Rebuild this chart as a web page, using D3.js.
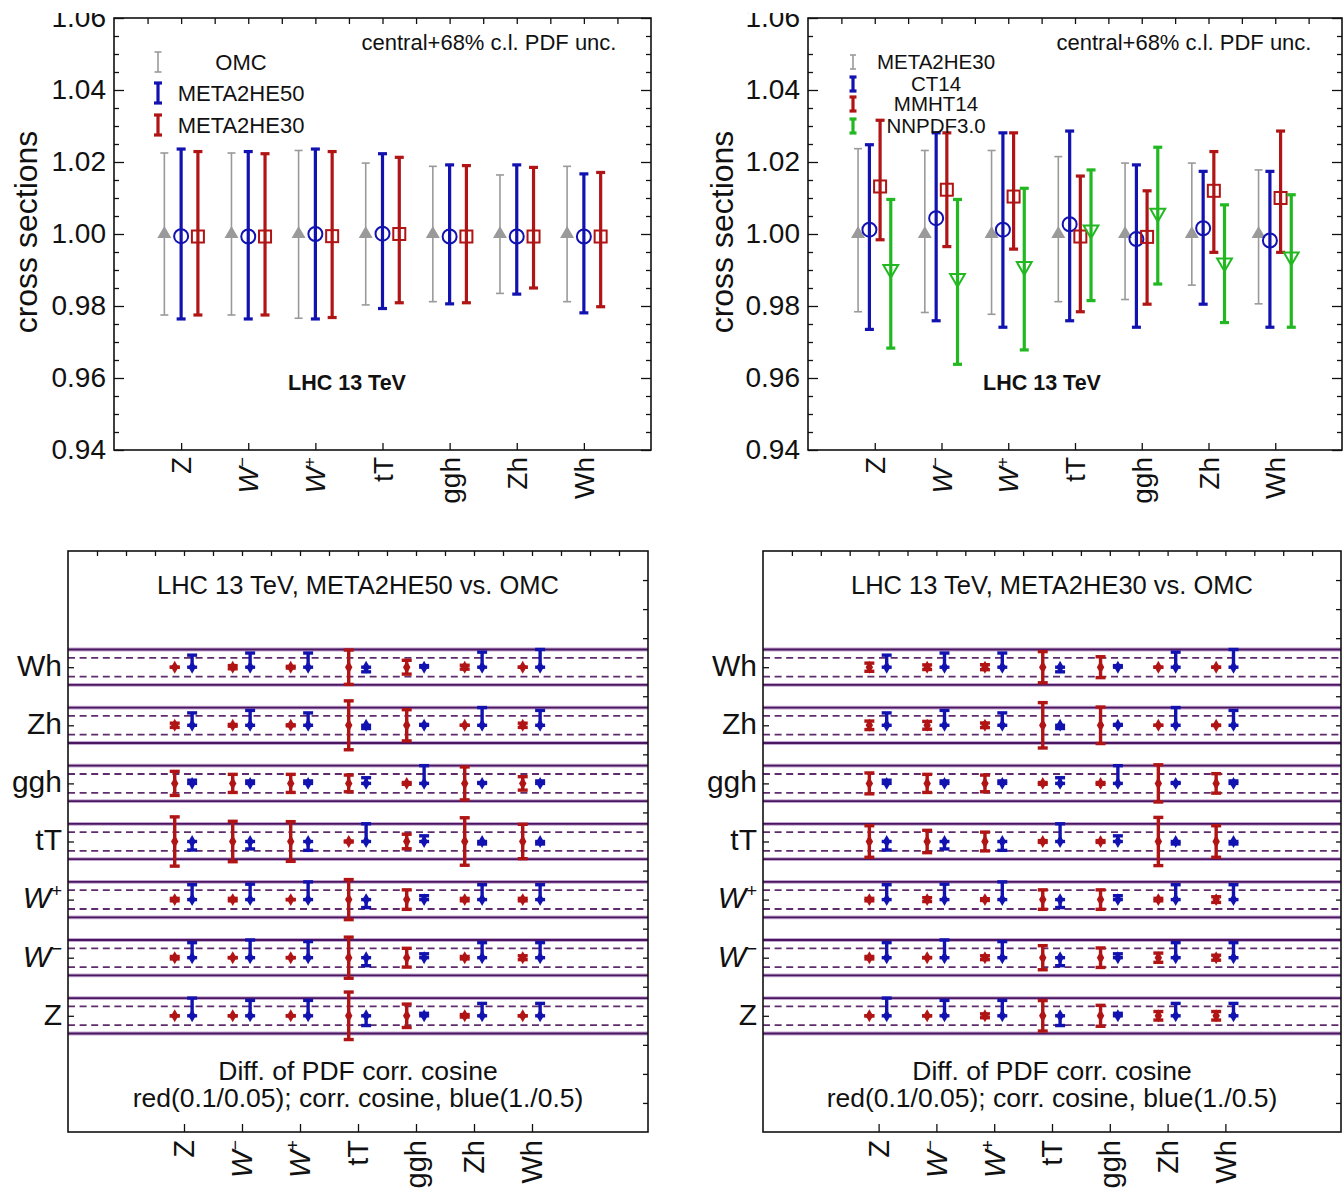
<!DOCTYPE html>
<html><head><meta charset="utf-8">
<script src="https://cdn.jsdelivr.net/npm/d3@7"></script>
<style>
body{margin:0;background:#fff}
svg{display:block}
text{font-family:"Liberation Sans",Arial,Helvetica,sans-serif;fill:#111}
</style>
</head><body>
<svg id="c" width="1343" height="1190"></svg>
<script>
// ---------------- DATA ----------------
const processes = ["Z","W-","W+","tT","ggh","Zh","Wh"];
const yTickValues = [0.94,0.96,0.98,1.00,1.02,1.04,1.06];

// Top-left: central + 68% c.l. PDF uncertainty (normalised to OMC)
const omcCentral = [1,1,1,1,1,1,1];
const omcLow     = [0.9775,0.9775,0.9766,0.9803,0.9812,0.9835,0.9812];
const omcHigh    = [1.0225,1.0225,1.0232,1.0197,1.0188,1.0164,1.0188];
const he50Central = [0.9994,0.9993,1.0000,1.0001,0.9993,0.9993,0.9993];
const he50Low     = [0.9764,0.9764,0.9764,0.9793,0.9806,0.9833,0.9781];
const he50High    = [1.0236,1.0229,1.0236,1.0223,1.0192,1.0192,1.0167];
const he30Central = [0.9993,0.9993,0.9994,1.0000,0.9993,0.9993,0.9993];
const he30Low     = [0.9775,0.9775,0.9768,0.9809,0.9809,0.9850,0.9798];
const he30High    = [1.0229,1.0223,1.0229,1.0213,1.0190,1.0185,1.0171];

// Top-right: normalised to META2HE30
const refCentral = [1,1,1,1,1,1,1];
const refLow     = [0.9784,0.9782,0.9777,0.9812,0.9818,0.9858,0.9806];
const refHigh    = [1.0237,1.0232,1.0232,1.0215,1.0197,1.0197,1.0178];
const ct14Central = [1.0012,1.0044,1.0012,1.0027,0.9986,1.0016,0.9982];
const ct14Low     = [0.9735,0.9759,0.9741,0.9759,0.9741,0.9805,0.9741];
const ct14High    = [1.0248,1.0281,1.0281,1.0286,1.0192,1.0174,1.0174];
const mmhtCentral = [1.0132,1.0123,1.0104,0.9993,0.9992,1.0120,1.0100];
const mmhtLow     = [0.9984,0.9965,0.9958,0.9784,0.9805,0.9949,0.9949];
const mmhtHigh    = [1.0316,1.0281,1.0281,1.0161,1.0120,1.0229,1.0286];
const nnpdfCentral = [0.9902,0.9877,0.9910,1.0012,1.0058,0.9920,0.9937];
const nnpdfLow     = [0.9683,0.9638,0.9678,0.9815,0.9861,0.9754,0.9741];
const nnpdfHigh    = [1.0096,1.0096,1.0127,1.0178,1.0241,1.0081,1.0109];

// Bottom: PDF correlation cosine (blue, rows = processes in order above)
const corrCosine = [
  [ 1.00, 0.87, 0.87,-0.55, 0.14, 0.70, 0.70],
  [ 0.85, 1.00, 0.91,-0.45, 0.22, 0.85, 0.85],
  [ 0.84, 0.87, 1.00,-0.45, 0.22, 0.84, 0.84],
  [-0.48,-0.42,-0.50, 1.00, 0.32,-0.14,-0.14],
  [ 0.18, 0.14, 0.14, 0.32, 1.00, 0.05, 0.14],
  [ 0.70, 0.84, 0.70,-0.18, 0.05, 1.00, 0.84],
  [ 0.68, 0.80, 0.80,-0.26, 0.09, 0.85, 1.00]
];
// Difference of correlation cosine (red), META2HE50 vs OMC
const diffHE50 = [
  [0.000,0.000,0.001,0.134,0.066,0.007,0.000],
  [0.007,0.001,0.001,0.116,0.053,0.007,0.011],
  [0.007,0.007,0.001,0.113,0.055,0.007,0.007],
  [0.139,0.114,0.112,0.003,0.041,0.134,0.097],
  [0.068,0.051,0.051,0.047,0.005,0.093,0.038],
  [0.012,0.005,0.003,0.138,0.088,0.000,0.012],
  [0.000,0.009,0.005,0.097,0.039,0.011,0.000]
];
// Difference of correlation cosine (red), META2HE30 vs OMC
const diffHE30 = [
  [0.000,0.000,0.011,0.086,0.059,0.024,0.024],
  [0.007,0.001,0.011,0.068,0.055,0.026,0.014],
  [0.007,0.011,0.005,0.055,0.055,0.007,0.016],
  [0.089,0.063,0.053,0.005,0.005,0.136,0.089],
  [0.059,0.051,0.047,0.005,0.005,0.105,0.055],
  [0.024,0.022,0.013,0.128,0.103,0.000,0.001],
  [0.023,0.013,0.014,0.088,0.059,0.000,0.000]
];

// ---------------- DRAWING ----------------
const svg = d3.select("#c");
svg.append("rect").attr("width",1343).attr("height",1190).attr("fill","#fff");
const COL = {gray:"#9a9a9a", blue:"#1212b0", red:"#b01414", green:"#22b822",
             purple:"#4a165f", purpleLight:"#c3a6d1", purpleDash:"#5e2c6c"};

svg.append("defs").append("clipPath").attr("id","topclip")
  .append("rect").attr("x",-300).attr("y",13).attr("width",2000).attr("height",1200);

function addLabel(t, lab, size){
  if(lab==="W-"||lab==="W+"){
    t.append("tspan").attr("font-style","italic").text("W");
    t.append("tspan").attr("font-size",size*0.62).attr("dy",-size*0.38)
      .text(lab==="W-"?"\u2212":"+");
  } else t.text(lab);
}
function styleAxis(g){ g.select(".domain").remove(); g.selectAll("line").attr("stroke","#111").attr("stroke-width",1.3); }

function topPanel(cfg){
  const {x0,x1,y0,y1,series,legendItems,legSymX,legTextX,legY,legHalf,yTitleX,legFont} = cfg;
  const x = d3.scaleLinear().domain([0,8]).range([x0,x1]);
  const y = d3.scaleLinear().domain([0.94,1.06]).range([y1,y0]);
  const g = svg.append("g");
  const minors = d3.range(0.94,1.0601,0.005).map(v=>+v.toFixed(3)).filter(v=>!yTickValues.some(t=>Math.abs(t-v)<1e-6));

  const la = g.append("g").attr("transform",`translate(${x0},0)`).attr("clip-path","url(#topclip)")
    .call(d3.axisLeft(y).tickValues(yTickValues).tickSize(-10).tickPadding(8).tickFormat(d3.format(".2f")))
    .call(styleAxis);
  la.selectAll("text").attr("font-size",28).attr("font-family","Liberation Sans, Arial, sans-serif").attr("fill","#111");
  g.append("g").attr("transform",`translate(${x0},0)`)
    .call(d3.axisLeft(y).tickValues(minors).tickSize(-5).tickFormat("")).call(styleAxis);
  g.append("g").attr("transform",`translate(${x1},0)`)
    .call(d3.axisRight(y).tickValues(yTickValues).tickSize(-10).tickFormat("")).call(styleAxis);
  g.append("g").attr("transform",`translate(${x1},0)`)
    .call(d3.axisRight(y).tickValues(minors).tickSize(-5).tickFormat("")).call(styleAxis);
  g.append("g").attr("transform",`translate(0,${y0})`)
    .call(d3.axisTop(x).tickValues(d3.range(0.5,8,0.5)).tickSize(-6).tickFormat("")).call(styleAxis);
  g.append("g").attr("transform",`translate(0,${y1})`)
    .call(d3.axisBottom(x).tickValues(d3.range(1,8)).tickSize(-7).tickFormat("")).call(styleAxis);

  g.append("rect").attr("x",x0).attr("y",y0).attr("width",x1-x0).attr("height",y1-y0)
    .attr("fill","none").attr("stroke","#111").attr("stroke-width",1.6);

  // x labels (rotated)
  processes.forEach((p,i)=>{
    const t = g.append("text").attr("transform",`translate(${x(i+1)},${y1+7}) rotate(-90)`)
      .attr("text-anchor","end").attr("dy","0.36em").attr("font-size",28);
    addLabel(t,p,28);
  });
  // y title
  g.append("text").attr("transform",`translate(${yTitleX},${y(1.0)-2}) rotate(-90)`)
    .attr("text-anchor","middle").attr("dy","0.35em").attr("font-size",32).text("cross sections");

  // series
  series.forEach(s=>{
    const sg = g.append("g");
    const d = processes.map((p,i)=>({i,c:s.c[i],lo:s.lo[i],hi:s.hi[i]}));
    const xp = v=>x(v.i+1+s.off);
    sg.selectAll("line.bar").data(d).join("line").attr("class","bar")
      .attr("x1",xp).attr("x2",xp).attr("y1",v=>y(v.lo)).attr("y2",v=>y(v.hi))
      .attr("stroke",s.color).attr("stroke-width",s.w);
    ["lo","hi"].forEach(k=>{
      sg.selectAll("line.cap"+k).data(d).join("line").attr("class","cap"+k)
        .attr("x1",v=>xp(v)-s.cap).attr("x2",v=>xp(v)+s.cap).attr("y1",v=>y(v[k])).attr("y2",v=>y(v[k]))
        .attr("stroke",s.color).attr("stroke-width",s.w);
    });
    if(s.marker==="triUp"){
      sg.selectAll("path.m").data(d).join("path").attr("class","m")
        .attr("d",d3.symbol(d3.symbolTriangle,85)).attr("transform",v=>`translate(${xp(v)},${y(v.c)})`)
        .attr("fill",s.color);
    } else if(s.marker==="circle"){
      sg.selectAll("circle.m").data(d).join("circle").attr("class","m")
        .attr("cx",xp).attr("cy",v=>y(v.c)).attr("r",7).attr("fill","none").attr("stroke",s.color).attr("stroke-width",2);
    } else if(s.marker==="square"){
      sg.selectAll("rect.m").data(d).join("rect").attr("class","m")
        .attr("x",v=>xp(v)-6).attr("y",v=>y(v.c)-6).attr("width",12).attr("height",12)
        .attr("fill","none").attr("stroke",s.color).attr("stroke-width",2);
    } else if(s.marker==="triDown"){
      sg.selectAll("path.m").data(d).join("path").attr("class","m")
        .attr("d",d3.symbol(d3.symbolTriangle,95)).attr("transform",v=>`translate(${xp(v)},${y(v.c)}) rotate(180)`)
        .attr("fill","none").attr("stroke",s.color).attr("stroke-width",2);
    }
  });

  // legend
  legendItems.forEach((L,k)=>{
    const yy = legY[k];
    const lg = g.append("g");
    lg.append("line").attr("x1",legSymX).attr("x2",legSymX).attr("y1",yy-legHalf).attr("y2",yy+legHalf)
      .attr("stroke",L.color).attr("stroke-width",L.w);
    [yy-legHalf,yy+legHalf].forEach(v=>lg.append("line").attr("x1",legSymX-L.cap).attr("x2",legSymX+L.cap)
      .attr("y1",v).attr("y2",v).attr("stroke",L.color).attr("stroke-width",L.w));
    lg.append("text").attr("x",legTextX).attr("y",yy).attr("dy","0.36em").attr("text-anchor","middle")
      .attr("font-size",legFont).text(L.name);
  });
  g.append("text").attr("x",cfg.noteX).attr("y",50)
    .attr("text-anchor","middle").attr("font-size",22).text("central+68% c.l. PDF unc.");
  g.append("text").attr("x",cfg.lhcX).attr("y",390).attr("text-anchor","middle")
    .attr("font-size",21.5).attr("font-weight","bold").text("LHC 13 TeV");
}

topPanel({
  x0:114,x1:651,y0:18,y1:450, yTitleX:26, noteX:489, lhcX:347, legFont:22,
  series:[
    {c:omcCentral,lo:omcLow,hi:omcHigh,off:-0.25,color:COL.gray,w:1.6,cap:4,marker:"triUp"},
    {c:he50Central,lo:he50Low,hi:he50High,off:0,color:COL.blue,w:3.2,cap:4.5,marker:"circle"},
    {c:he30Central,lo:he30Low,hi:he30High,off:0.25,color:COL.red,w:3.2,cap:4.5,marker:"square"}
  ],
  legendItems:[{name:"OMC",color:COL.gray,w:1.6,cap:3.5},{name:"META2HE50",color:COL.blue,w:3.2,cap:4},{name:"META2HE30",color:COL.red,w:3.2,cap:4}],
  legSymX:158, legTextX:241, legY:[62,93,125], legHalf:10
});
topPanel({
  x0:808,x1:1342,y0:18,y1:450, yTitleX:722, noteX:1184, lhcX:1042, legFont:20.5,
  series:[
    {c:refCentral,lo:refLow,hi:refHigh,off:-0.25,color:COL.gray,w:1.6,cap:4,marker:"triUp"},
    {c:ct14Central,lo:ct14Low,hi:ct14High,off:-0.08,color:COL.blue,w:3.2,cap:4.5,marker:"circle"},
    {c:mmhtCentral,lo:mmhtLow,hi:mmhtHigh,off:0.08,color:COL.red,w:3.2,cap:4.5,marker:"square"},
    {c:nnpdfCentral,lo:nnpdfLow,hi:nnpdfHigh,off:0.24,color:COL.green,w:3.2,cap:4.5,marker:"triDown"}
  ],
  legendItems:[{name:"META2HE30",color:COL.gray,w:1.6,cap:3},{name:"CT14",color:COL.blue,w:3.2,cap:3.5},
               {name:"MMHT14",color:COL.red,w:3.2,cap:3.5},{name:"NNPDF3.0",color:COL.green,w:3.2,cap:3.5}],
  legSymX:853, legTextX:936, legY:[62,84,104,126], legHalf:7
});

function bottomPanel(cfg){
  const {x0,x1,y0,y1,diff,title} = cfg;
  const x = d3.scaleLinear().domain([-2,8]).range([x0,x1]);
  const y = d3.scaleLinear().domain([-2,8]).range([y1,y0]);
  const band = 0.305;            // row half-height for blue 1.0 / red 0.1
  const g = svg.append("g");
  const rows = d3.range(processes.length);
  // row guide lines
  rows.forEach(i=>{
    [1,-1].forEach(sgn=>{
      g.append("line").attr("x1",x0).attr("x2",x1).attr("y1",y(i+sgn*band)).attr("y2",y(i+sgn*band))
        .attr("stroke",COL.purpleLight).attr("stroke-width",3.8);
      g.append("line").attr("x1",x0).attr("x2",x1).attr("y1",y(i+sgn*band)).attr("y2",y(i+sgn*band))
        .attr("stroke",COL.purple).attr("stroke-width",1.8);
      g.append("line").attr("x1",x0).attr("x2",x1).attr("y1",y(i+sgn*band*0.53)).attr("y2",y(i+sgn*band*0.53))
        .attr("stroke",COL.purpleDash).attr("stroke-width",1.8).attr("stroke-dasharray","7,4.6");
    });
  });
  // ticks
  g.append("g").attr("transform",`translate(${x0},0)`)
    .call(d3.axisLeft(y).tickValues(rows).tickSize(-6).tickFormat("")).call(styleAxis);
  g.append("g").attr("transform",`translate(0,${y1})`)
    .call(d3.axisBottom(x).tickValues(rows).tickSize(-8).tickFormat("")).call(styleAxis);
  g.append("g").attr("transform",`translate(0,${y0})`)
    .call(d3.axisTop(x).tickValues(d3.range(-1.5,8,0.5)).tickSize(-5).tickFormat("")).call(styleAxis);
  g.append("g").attr("transform",`translate(${x1},0)`)
    .call(d3.axisRight(y).tickValues(d3.range(-1.5,8,0.5)).tickSize(-5).tickFormat("")).call(styleAxis);
  g.append("rect").attr("x",x0).attr("y",y0).attr("width",x1-x0).attr("height",y1-y0)
    .attr("fill","none").attr("stroke","#111").attr("stroke-width",1.6);

  // labels
  processes.forEach((p,i)=>{
    const t = g.append("text").attr("x",x0-6).attr("y",y(i)-2).attr("dy","0.36em")
      .attr("text-anchor","end").attr("font-size",30);
    addLabel(t,p,30);
    const t2 = g.append("text").attr("transform",`translate(${x(i)},${y1+8}) rotate(-90)`)
      .attr("text-anchor","end").attr("dy","0.36em").attr("font-size",29);
    addLabel(t2,p,29);
  });
  g.append("text").attr("x",(x0+x1)/2).attr("y",y0+43).attr("text-anchor","middle")
    .attr("font-size",25.5).text(title);
  g.append("text").attr("x",(x0+x1)/2).attr("y",1080).attr("text-anchor","middle")
    .attr("font-size",26.5).text("Diff. of PDF corr. cosine");
  g.append("text").attr("x",(x0+x1)/2).attr("y",1107).attr("text-anchor","middle")
    .attr("font-size",26.5).text("red(0.1/0.05); corr. cosine, blue(1./0.5)");

  // marks
  const cells = [];
  rows.forEach(i=>processes.forEach((p,j)=>cells.push({i,j,r:diff[i][j],c:corrCosine[i][j]})));
  const cap = 5, sw = 3.4;
  function bars(cls, data, xo, lo, hi, color){
    const mg = g.append("g").attr("class",cls);
    mg.selectAll("line.b").data(data).join("line").attr("class","b")
      .attr("x1",d=>x(d.j+xo)).attr("x2",d=>x(d.j+xo)).attr("y1",d=>y(d.i+lo(d))).attr("y2",d=>y(d.i+hi(d)))
      .attr("stroke",color).attr("stroke-width",sw);
    [lo,hi].forEach((f,k)=>mg.selectAll("line.c"+k).data(data).join("line").attr("class","c"+k)
      .attr("x1",d=>x(d.j+xo)-cap).attr("x2",d=>x(d.j+xo)+cap).attr("y1",d=>y(d.i+f(d))).attr("y2",d=>y(d.i+f(d)))
      .attr("stroke",color).attr("stroke-width",sw));
    mg.selectAll("path.m").data(data).join("path").attr("class","m")
      .attr("d",d3.symbol(d3.symbolDiamond,48)).attr("transform",d=>`translate(${x(d.j+xo)},${y(d.i)})`)
      .attr("fill",color);
  }
  bars("red",cells,-0.16,d=>-d.r/0.1*band,d=>d.r/0.1*band,COL.red);
  bars("blue",cells,0.14,d=>0,d=>d.c*band,COL.blue);
}
bottomPanel({x0:68,x1:648,y0:551,y1:1132,diff:diffHE50,title:"LHC 13 TeV, META2HE50 vs. OMC"});
bottomPanel({x0:763,x1:1341,y0:551,y1:1132,diff:diffHE30,title:"LHC 13 TeV, META2HE30 vs. OMC"});
</script>
</body></html>
